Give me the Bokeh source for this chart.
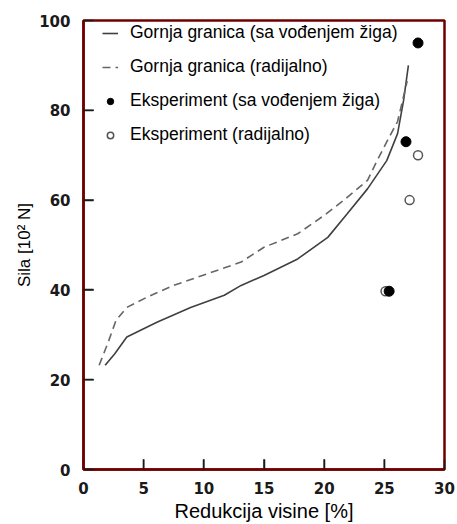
from bokeh.plotting import figure
from bokeh.models import Range1d, FixedTicker, Legend, LegendItem
from bokeh.embed import file_html
from bokeh.resources import INLINE

# Data
solid_x = [1.8, 2.6, 3.6, 6.1, 8.9, 11.7, 13.1, 15.0, 17.8, 20.3, 21.9, 23.6, 25.2, 26.1, 26.6, 27.0]
solid_y = [23.2, 25.8, 29.5, 32.8, 36.1, 38.8, 41.0, 43.2, 46.9, 51.7, 56.9, 62.5, 68.8, 74.8, 82.2, 90.0]
dash_x = [1.3, 2.1, 2.7, 3.6, 5.3, 7.5, 10.3, 13.1, 15.0, 17.8, 20.0, 21.6, 23.6, 24.4, 25.4, 26.1, 26.9]
dash_y = [23.2, 28.7, 33.2, 36.1, 38.4, 41.0, 43.6, 46.2, 49.5, 52.5, 56.6, 59.9, 64.4, 68.8, 74.0, 77.5, 86.5]
exp_guided_x = [27.8, 26.8, 25.4]
exp_guided_y = [95.0, 73.0, 39.7]
exp_radial_x = [27.8, 27.1, 25.1]
exp_radial_y = [70.0, 60.0, 39.7]
x_ticks = [0, 5, 10, 15, 20, 25, 30]
y_ticks = [0, 20, 40, 60, 80, 100]

x_lo, x_hi = 0, 30
y_lo, y_hi = 0, 100
frame_color = "#700000"
tick_color = "#1a1a1a"
# inward tick length, in axis units (about 10 px)
tick_len_x = 0.85   # for y-axis ticks (horizontal)
tick_len_y = 2.3    # for x-axis ticks (vertical)

p = figure(width=457, height=524, output_backend="svg", toolbar_location=None,
           x_range=Range1d(x_lo, x_hi), y_range=Range1d(y_lo, y_hi),
           min_border_left=83, min_border_right=13, min_border_top=20, min_border_bottom=55)
p.background_fill_color = None
p.border_fill_color = None
p.xgrid.visible = False
p.ygrid.visible = False
p.outline_line_color = frame_color
p.outline_line_width = 2.5

# inward tick marks as segments inside the frame
inner_x_ticks = x_ticks[1:-1]
inner_y_ticks = y_ticks[1:-1]
p.segment(x0=inner_x_ticks, y0=[y_lo] * len(inner_x_ticks),
          x1=inner_x_ticks, y1=[y_lo + tick_len_y] * len(inner_x_ticks),
          line_color=tick_color, line_width=1.5)
p.segment(x0=[x_lo] * len(inner_y_ticks), y0=inner_y_ticks,
          x1=[x_lo + tick_len_x] * len(inner_y_ticks), y1=inner_y_ticks,
          line_color=tick_color, line_width=1.5)

r_solid = p.line(solid_x, solid_y, line_color="#404040", line_width=1.6)
r_dash = p.line(dash_x, dash_y, line_color="#666666", line_width=1.6, line_dash="8 5")
r_open = p.scatter(exp_radial_x, exp_radial_y, size=9, fill_color="white", line_color="#555555", line_width=1.5)
r_fill = p.scatter(exp_guided_x, exp_guided_y, size=10, fill_color="black", line_color="black")

for ax, ticks in ((p.xaxis, x_ticks), (p.yaxis, y_ticks)):
    ax.ticker = FixedTicker(ticks=ticks)
    ax.major_tick_in = 10
    ax.major_tick_out = 0
    ax.minor_tick_line_color = None
    ax.axis_line_color = frame_color
    ax.axis_line_width = 2.5
    ax.major_tick_line_color = tick_color
    ax.major_tick_line_width = 1.5
    ax.major_label_text_font = "DejaVu Sans"
    ax.major_label_text_font_style = "bold"
    ax.major_label_text_font_size = "15px"
    ax.major_label_text_color = "#1a1a1a"
    ax.axis_label_text_font = "Liberation Sans"
    ax.axis_label_text_font_style = "normal"
    ax.axis_label_text_color = "black"

p.xaxis.major_label_standoff = 12
p.yaxis.major_label_standoff = 13
p.xaxis.axis_label = "Redukcija visine [%]"
p.yaxis.axis_label = "Sila [10² N]"
p.xaxis.axis_label_text_font_size = "20px"
p.yaxis.axis_label_text_font_size = "17px"
p.xaxis.axis_label_standoff = 3
p.yaxis.axis_label_standoff = 2

legend = Legend(items=[
    LegendItem(label="Gornja granica (sa vođenjem žiga)", renderers=[r_solid]),
    LegendItem(label="Gornja granica (radijalno)", renderers=[r_dash]),
    LegendItem(label="Eksperiment (sa vođenjem žiga)", renderers=[r_fill]),
    LegendItem(label="Eksperiment (radijalno)", renderers=[r_open]),
], location=(13, 318))
legend.background_fill_alpha = 0
legend.border_line_alpha = 0
legend.padding = 6
legend.margin = 0
legend.spacing = 13
legend.glyph_width = 16
legend.glyph_height = 20
legend.label_height = 20
legend.label_standoff = 12
legend.label_text_font = "Liberation Sans"
legend.label_text_font_size = "17.5px"
legend.label_text_color = "black"
p.add_layout(legend)

open("out.html", "w").write(file_html(p, INLINE))
